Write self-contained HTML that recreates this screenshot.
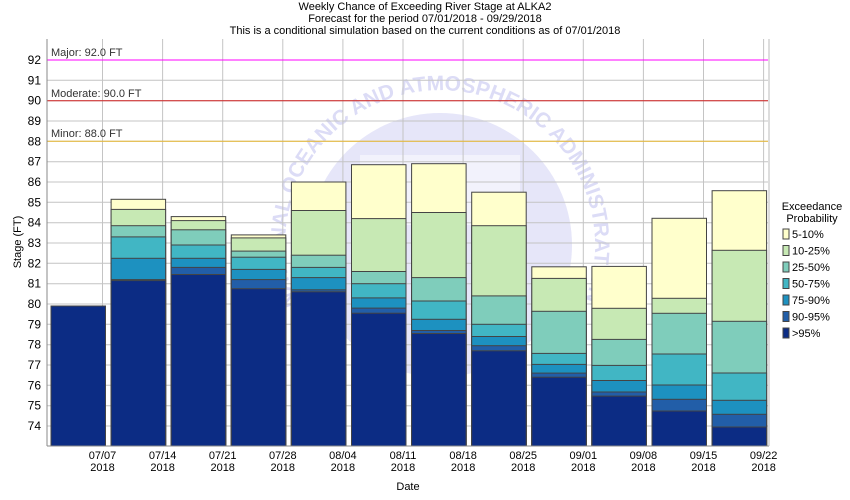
<!DOCTYPE html>
<html><head><meta charset="utf-8"><style>
html,body{margin:0;padding:0;background:#fff;}
svg{display:block;font-family:"Liberation Sans",sans-serif;}
</style></head><body>
<svg width="850" height="500" viewBox="0 0 850 500" xmlns="http://www.w3.org/2000/svg">
<defs><path id="ring" d="M 297 305 A 155 155 0 1 1 583 305"/></defs>
<rect width="850" height="500" fill="#fff"/>
<g font-size="11" text-anchor="middle" fill="#000">
<text x="425" y="10">Weekly Chance of Exceeding River Stage at ALKA2</text>
<text x="425" y="22">Forecast for the period 07/01/2018 - 09/29/2018</text>
<text x="425" y="34">This is a conditional simulation based on the current conditions as of 07/01/2018</text>
</g>
<!-- watermark -->
<circle cx="440" cy="245" r="132" fill="#e6e6f9"/>
<rect x="360" y="155" width="160" height="70" fill="#f2f2fc"/>
<text font-size="21" font-weight="bold" fill="#dcdcf6"><textPath href="#ring" startOffset="0">NATIONAL OCEANIC AND ATMOSPHERIC ADMINISTRATION</textPath></text>
<!-- grid -->
<g stroke="#c4c4c4" stroke-width="1">
<line x1="47" x2="768" y1="426" y2="426"/><line x1="47" x2="768" y1="405.7" y2="405.7"/><line x1="47" x2="768" y1="385.3" y2="385.3"/><line x1="47" x2="768" y1="365" y2="365"/><line x1="47" x2="768" y1="344.7" y2="344.7"/><line x1="47" x2="768" y1="324.3" y2="324.3"/><line x1="47" x2="768" y1="304" y2="304"/><line x1="47" x2="768" y1="283.7" y2="283.7"/><line x1="47" x2="768" y1="263.3" y2="263.3"/><line x1="47" x2="768" y1="243" y2="243"/><line x1="47" x2="768" y1="222.7" y2="222.7"/><line x1="47" x2="768" y1="202.3" y2="202.3"/><line x1="47" x2="768" y1="182" y2="182"/><line x1="47" x2="768" y1="161.7" y2="161.7"/><line x1="47" x2="768" y1="141.3" y2="141.3"/><line x1="47" x2="768" y1="121" y2="121"/><line x1="47" x2="768" y1="100.7" y2="100.7"/><line x1="47" x2="768" y1="80.3" y2="80.3"/>
<line y1="39" y2="446" x1="102.5" x2="102.5"/><line y1="39" y2="446" x1="162.6" x2="162.6"/><line y1="39" y2="446" x1="222.7" x2="222.7"/><line y1="39" y2="446" x1="282.8" x2="282.8"/><line y1="39" y2="446" x1="342.9" x2="342.9"/><line y1="39" y2="446" x1="403" x2="403"/><line y1="39" y2="446" x1="463.1" x2="463.1"/><line y1="39" y2="446" x1="523.2" x2="523.2"/><line y1="39" y2="446" x1="583.3" x2="583.3"/><line y1="39" y2="446" x1="643.4" x2="643.4"/><line y1="39" y2="446" x1="703.5" x2="703.5"/><line y1="39" y2="446" x1="763.6" x2="763.6"/>
</g>
<!-- thresholds -->
<line x1="47" x2="768" y1="60" y2="60" stroke="#ff00ff"/>
<line x1="47" x2="768" y1="100.7" y2="100.7" stroke="#d02020"/>
<line x1="47" x2="768" y1="141.3" y2="141.3" stroke="#e8b830"/>
<g font-size="11" fill="#333">
<text x="51" y="56">Major: 92.0 FT</text>
<text x="51" y="97">Moderate: 90.0 FT</text>
<text x="51" y="137">Minor: 88.0 FT</text>
</g>
<!-- bars -->
<g stroke="#444" stroke-width="1">
<rect x="51" y="306" width="54.5" height="140" fill="#0c2c84"/>

<rect x="111.1" y="199.3" width="54.5" height="246.7" fill="#ffffcc"/>
<rect x="111.1" y="209.4" width="54.5" height="236.6" fill="#c7e9b4"/>
<rect x="111.1" y="225.7" width="54.5" height="220.3" fill="#7fcdbb"/>
<rect x="111.1" y="236.9" width="54.5" height="209.1" fill="#41b6c4"/>
<rect x="111.1" y="258.3" width="54.5" height="187.7" fill="#1d91c0"/>
<rect x="111.1" y="279.6" width="54.5" height="166.4" fill="#225ea8"/>
<rect x="111.1" y="280.6" width="54.5" height="165.4" fill="#0c2c84"/>

<rect x="171.2" y="216.6" width="54.5" height="229.4" fill="#ffffcc"/>
<rect x="171.2" y="220.6" width="54.5" height="225.4" fill="#c7e9b4"/>
<rect x="171.2" y="229.8" width="54.5" height="216.2" fill="#7fcdbb"/>
<rect x="171.2" y="245" width="54.5" height="201" fill="#41b6c4"/>
<rect x="171.2" y="258.3" width="54.5" height="187.7" fill="#1d91c0"/>
<rect x="171.2" y="267.4" width="54.5" height="178.6" fill="#225ea8"/>
<rect x="171.2" y="274.5" width="54.5" height="171.5" fill="#0c2c84"/>

<rect x="231.3" y="234.9" width="54.5" height="211.1" fill="#ffffcc"/>
<rect x="231.3" y="237.9" width="54.5" height="208.1" fill="#c7e9b4"/>
<rect x="231.3" y="251.1" width="54.5" height="194.9" fill="#7fcdbb"/>
<rect x="231.3" y="257.2" width="54.5" height="188.8" fill="#41b6c4"/>
<rect x="231.3" y="269.4" width="54.5" height="176.6" fill="#1d91c0"/>
<rect x="231.3" y="279.6" width="54.5" height="166.4" fill="#225ea8"/>
<rect x="231.3" y="288.7" width="54.5" height="157.3" fill="#0c2c84"/>

<rect x="291.4" y="182" width="54.5" height="264" fill="#ffffcc"/>
<rect x="291.4" y="210.5" width="54.5" height="235.5" fill="#c7e9b4"/>
<rect x="291.4" y="255.2" width="54.5" height="190.8" fill="#7fcdbb"/>
<rect x="291.4" y="267.4" width="54.5" height="178.6" fill="#41b6c4"/>
<rect x="291.4" y="277.6" width="54.5" height="168.4" fill="#1d91c0"/>
<rect x="291.4" y="289.8" width="54.5" height="156.2" fill="#225ea8"/>
<rect x="291.4" y="291.8" width="54.5" height="154.2" fill="#0c2c84"/>

<rect x="351.5" y="164.7" width="54.5" height="281.3" fill="#ffffcc"/>
<rect x="351.5" y="218.6" width="54.5" height="227.4" fill="#c7e9b4"/>
<rect x="351.5" y="271.5" width="54.5" height="174.5" fill="#7fcdbb"/>
<rect x="351.5" y="283.7" width="54.5" height="162.3" fill="#41b6c4"/>
<rect x="351.5" y="297.9" width="54.5" height="148.1" fill="#1d91c0"/>
<rect x="351.5" y="308.1" width="54.5" height="137.9" fill="#225ea8"/>
<rect x="351.5" y="313.2" width="54.5" height="132.8" fill="#0c2c84"/>

<rect x="411.6" y="163.7" width="54.5" height="282.3" fill="#ffffcc"/>
<rect x="411.6" y="212.5" width="54.5" height="233.5" fill="#c7e9b4"/>
<rect x="411.6" y="277.6" width="54.5" height="168.4" fill="#7fcdbb"/>
<rect x="411.6" y="301" width="54.5" height="145" fill="#41b6c4"/>
<rect x="411.6" y="319.3" width="54.5" height="126.7" fill="#1d91c0"/>
<rect x="411.6" y="330.5" width="54.5" height="115.5" fill="#225ea8"/>
<rect x="411.6" y="333.5" width="54.5" height="112.5" fill="#0c2c84"/>

<rect x="471.7" y="192.2" width="54.5" height="253.8" fill="#ffffcc"/>
<rect x="471.7" y="225.7" width="54.5" height="220.3" fill="#c7e9b4"/>
<rect x="471.7" y="295.9" width="54.5" height="150.1" fill="#7fcdbb"/>
<rect x="471.7" y="324.3" width="54.5" height="121.7" fill="#41b6c4"/>
<rect x="471.7" y="336.5" width="54.5" height="109.5" fill="#1d91c0"/>
<rect x="471.7" y="345.7" width="54.5" height="100.3" fill="#225ea8"/>
<rect x="471.7" y="350.8" width="54.5" height="95.2" fill="#0c2c84"/>

<rect x="531.8" y="266.8" width="54.5" height="179.2" fill="#ffffcc"/>
<rect x="531.8" y="278.4" width="54.5" height="167.6" fill="#c7e9b4"/>
<rect x="531.8" y="311.3" width="54.5" height="134.7" fill="#7fcdbb"/>
<rect x="531.8" y="353.4" width="54.5" height="92.6" fill="#41b6c4"/>
<rect x="531.8" y="364.4" width="54.5" height="81.6" fill="#1d91c0"/>
<rect x="531.8" y="373.1" width="54.5" height="72.9" fill="#225ea8"/>
<rect x="531.8" y="377.2" width="54.5" height="68.8" fill="#0c2c84"/>

<rect x="591.9" y="266.4" width="54.5" height="179.6" fill="#ffffcc"/>
<rect x="591.9" y="308.3" width="54.5" height="137.7" fill="#c7e9b4"/>
<rect x="591.9" y="339.4" width="54.5" height="106.6" fill="#7fcdbb"/>
<rect x="591.9" y="365.4" width="54.5" height="80.6" fill="#41b6c4"/>
<rect x="591.9" y="380.5" width="54.5" height="65.5" fill="#1d91c0"/>
<rect x="591.9" y="392" width="54.5" height="54" fill="#225ea8"/>
<rect x="591.9" y="396.1" width="54.5" height="49.9" fill="#0c2c84"/>

<rect x="652" y="218.3" width="54.5" height="227.7" fill="#ffffcc"/>
<rect x="652" y="298.3" width="54.5" height="147.7" fill="#c7e9b4"/>
<rect x="652" y="313.3" width="54.5" height="132.7" fill="#7fcdbb"/>
<rect x="652" y="354" width="54.5" height="92" fill="#41b6c4"/>
<rect x="652" y="385" width="54.5" height="61" fill="#1d91c0"/>
<rect x="652" y="399.3" width="54.5" height="46.7" fill="#225ea8"/>
<rect x="652" y="411" width="54.5" height="35" fill="#0c2c84"/>

<rect x="712.1" y="190.7" width="54.5" height="255.3" fill="#ffffcc"/>
<rect x="712.1" y="250.3" width="54.5" height="195.7" fill="#c7e9b4"/>
<rect x="712.1" y="321.3" width="54.5" height="124.7" fill="#7fcdbb"/>
<rect x="712.1" y="373" width="54.5" height="73" fill="#41b6c4"/>
<rect x="712.1" y="400.3" width="54.5" height="45.7" fill="#1d91c0"/>
<rect x="712.1" y="414.3" width="54.5" height="31.7" fill="#225ea8"/>
<rect x="712.1" y="427" width="54.5" height="19" fill="#0c2c84"/>
</g>
<!-- axes -->
<line x1="47" x2="47" y1="39" y2="446" stroke="#888"/>
<line x1="47" x2="769" y1="446" y2="446" stroke="#888"/>
<line x1="769" x2="769" y1="39" y2="446" stroke="#bbb"/>
<g font-size="12" text-anchor="end" fill="#000">
<text x="41" y="430">74</text><text x="41" y="409.7">75</text><text x="41" y="389.3">76</text><text x="41" y="369">77</text><text x="41" y="348.7">78</text><text x="41" y="328.3">79</text><text x="41" y="308">80</text><text x="41" y="287.7">81</text><text x="41" y="267.3">82</text><text x="41" y="247">83</text><text x="41" y="226.7">84</text><text x="41" y="206.3">85</text><text x="41" y="186">86</text><text x="41" y="165.7">87</text><text x="41" y="145.3">88</text><text x="41" y="125">89</text><text x="41" y="104.7">90</text><text x="41" y="84.3">91</text><text x="41" y="64">92</text>
</g>
<g font-size="11" text-anchor="middle" fill="#000">
<text x="102.5" y="459">07/07</text><text x="102.5" y="471">2018</text>
<text x="162.6" y="459">07/14</text><text x="162.6" y="471">2018</text>
<text x="222.7" y="459">07/21</text><text x="222.7" y="471">2018</text>
<text x="282.8" y="459">07/28</text><text x="282.8" y="471">2018</text>
<text x="342.9" y="459">08/04</text><text x="342.9" y="471">2018</text>
<text x="403" y="459">08/11</text><text x="403" y="471">2018</text>
<text x="463.1" y="459">08/18</text><text x="463.1" y="471">2018</text>
<text x="523.2" y="459">08/25</text><text x="523.2" y="471">2018</text>
<text x="583.3" y="459">09/01</text><text x="583.3" y="471">2018</text>
<text x="643.4" y="459">09/08</text><text x="643.4" y="471">2018</text>
<text x="703.5" y="459">09/15</text><text x="703.5" y="471">2018</text>
<text x="763.6" y="459">09/22</text><text x="763.6" y="471">2018</text>
<text x="408" y="490">Date</text>
<text transform="translate(21,242) rotate(-90)">Stage (FT)</text>
</g>
<!-- legend -->
<g font-size="11" fill="#000">
<text x="812" y="210" text-anchor="middle">Exceedance</text>
<text x="812" y="222" text-anchor="middle">Probability</text>
<g stroke="#444">
<rect x="783" y="229" width="6" height="10" fill="#ffffcc"/>
<rect x="783" y="245.5" width="6" height="10" fill="#c7e9b4"/>
<rect x="783" y="262" width="6" height="10" fill="#7fcdbb"/>
<rect x="783" y="278.5" width="6" height="10" fill="#41b6c4"/>
<rect x="783" y="295" width="6" height="10" fill="#1d91c0"/>
<rect x="783" y="311.5" width="6" height="10" fill="#225ea8"/>
<rect x="783" y="328" width="6" height="10" fill="#0c2c84"/>
</g>
<text x="792" y="238">5-10%</text>
<text x="792" y="254.5">10-25%</text>
<text x="792" y="271">25-50%</text>
<text x="792" y="287.5">50-75%</text>
<text x="792" y="304">75-90%</text>
<text x="792" y="320.5">90-95%</text>
<text x="792" y="337">&gt;95%</text>
</g>
</svg>
</body></html>
